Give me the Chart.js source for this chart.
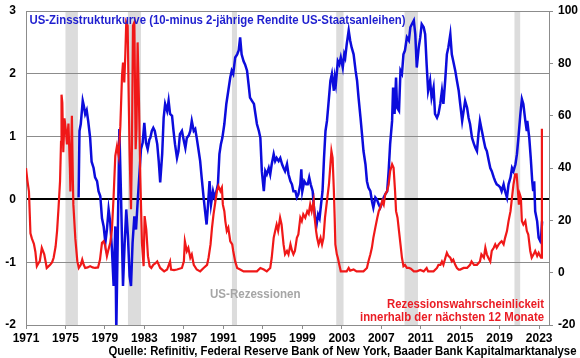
<!DOCTYPE html>
<html><head><meta charset="utf-8">
<script src="https://cdn.jsdelivr.net/npm/chart.js@4.4.1/dist/chart.umd.min.js"></script>
<style>html,body{margin:0;padding:0;background:#fff;overflow:hidden}#wrap{width:580px;height:358px}</style>
</head><body><div id="wrap"><canvas id="c" width="580" height="358"></canvas></div>
<script>
// ---- data ----
const spreadYears = [1976.33,1976.42,1976.55,1976.75,1976.85,1977.0,1977.15,1977.3,1977.5,1977.65,1977.85,1978.0,1978.2,1978.35,1978.53,1978.7,1978.87,1979.04,1979.2,1979.37,1979.54,1979.71,1979.88,1980.05,1980.15,1980.29,1980.46,1980.63,1980.83,1981.0,1981.16,1981.33,1981.5,1981.64,1981.8,1981.98,1982.15,1982.31,1982.48,1982.65,1982.82,1982.99,1983.16,1983.33,1983.5,1983.6,1983.75,1983.9,1984.05,1984.3,1984.45,1984.6,1984.8,1984.95,1985.1,1985.3,1985.45,1985.6,1985.8,1985.95,1986.1,1986.3,1986.45,1986.6,1986.8,1987.0,1987.15,1987.3,1987.5,1987.65,1987.8,1988.0,1988.15,1988.3,1988.5,1988.65,1988.8,1989.0,1989.15,1989.3,1989.45,1989.6,1989.75,1989.95,1990.1,1990.3,1990.45,1990.6,1990.75,1990.9,1991.1,1991.3,1991.5,1991.7,1991.85,1992.0,1992.2,1992.4,1992.55,1992.7,1992.85,1993.05,1993.2,1993.4,1993.55,1993.7,1993.9,1994.1,1994.25,1994.4,1994.6,1994.75,1994.9,1995.1,1995.25,1995.4,1995.6,1995.75,1995.9,1996.1,1996.25,1996.4,1996.6,1996.77,1996.95,1997.1,1997.25,1997.45,1997.6,1997.8,1997.95,1998.1,1998.3,1998.45,1998.6,1998.8,1998.9,1999.0,1999.2,1999.4,1999.55,1999.7,1999.85,2000.05,2000.15,2000.3,2000.45,2000.6,2000.75,2000.9,2001.05,2001.2,2001.35,2001.5,2001.65,2001.85,2002.0,2002.2,2002.3,2002.4,2002.6,2002.75,2002.9,2003.1,2003.25,2003.35,2003.5,2003.7,2003.85,2004.0,2004.2,2004.4,2004.55,2004.7,2004.9,2005.05,2005.2,2005.4,2005.55,2005.7,2005.9,2006.06,2006.2,2006.4,2006.55,2006.75,2006.9,2007.1,2007.25,2007.4,2007.6,2007.75,2007.9,2008.1,2008.2,2008.25,2008.35,2008.5,2008.6,2008.8,2008.95,2009.1,2009.25,2009.4,2009.6,2009.8,2009.95,2010.1,2010.3,2010.45,2010.6,2010.8,2010.95,2011.1,2011.3,2011.45,2011.6,2011.75,2011.95,2012.1,2012.3,2012.45,2012.65,2012.8,2012.98,2013.15,2013.3,2013.5,2013.65,2013.8,2014.0,2014.15,2014.3,2014.5,2014.67,2014.85,2015.0,2015.2,2015.35,2015.5,2015.7,2015.85,2016.0,2016.2,2016.4,2016.55,2016.7,2016.85,2017.0,2017.2,2017.4,2017.55,2017.7,2017.9,2018.05,2018.2,2018.4,2018.55,2018.7,2018.9,2019.06,2019.2,2019.4,2019.55,2019.74,2019.9,2020.1,2020.25,2020.4,2020.6,2020.75,2020.9,2021.1,2021.25,2021.4,2021.6,2021.75,2021.8,2022.0,2022.15,2022.3,2022.4,2022.5,2022.6,2022.8,2022.95,2023.1,2023.2,2023.3];
const spreadValues = [0.03,1.09,1.2,1.57,1.5,1.36,1.42,1.25,0.98,0.6,0.5,0.35,0.29,0.13,0.05,-0.3,-0.43,-0.69,-0.48,-0.16,-0.37,-0.8,-1.38,-0.43,-2.1,-0.69,1.12,0.05,-1.38,-0.69,-0.16,-0.59,-1.22,-1.38,-0.69,-0.27,-0.48,-0.05,0.37,0.8,0.9,1.22,0.9,0.8,0.95,0.98,1.09,1.14,1.09,0.88,0.61,0.27,0.72,1.3,1.52,1.41,1.57,1.36,1.33,1.09,0.88,0.66,0.77,1.04,1.09,0.93,0.82,0.98,1.02,1.09,1.25,1.09,1.12,0.98,0.77,0.61,0.35,0.03,-0.19,-0.4,-0.08,0.29,-0.08,0.13,0.03,0.13,0.24,0.72,0.88,0.98,1.2,1.52,1.73,1.94,2.05,2.0,2.26,2.31,2.37,2.58,2.31,2.2,2.15,2.05,1.84,1.62,1.57,1.52,1.36,1.2,1.09,0.98,0.45,0.13,0.45,0.4,0.5,0.4,0.56,0.72,0.61,0.66,0.61,0.66,0.56,0.5,0.45,0.56,0.4,0.29,0.24,0.13,0.13,0.03,0.08,0.24,0.48,0.13,0.29,0.24,0.24,0.35,0.24,0.13,-0.08,-0.29,-0.4,-0.24,-0.3,-0.08,0.13,0.66,1.09,1.25,1.52,1.89,2.0,1.73,1.94,1.84,2.2,2.15,2.26,2.1,2.31,2.26,2.47,2.69,2.53,2.42,2.31,2.05,1.89,1.62,1.3,1.04,0.77,0.56,0.29,0.19,0.13,-0.03,-0.13,0.03,0.0,-0.08,-0.13,-0.05,0.03,0.08,0.13,0.45,0.88,1.25,1.78,1.52,1.36,1.94,1.46,1.41,2.05,2.0,2.31,2.37,2.58,2.53,2.74,2.79,2.85,2.63,2.1,2.42,2.58,2.79,2.74,2.63,2.15,1.73,1.89,1.62,1.78,1.36,1.3,1.36,1.52,1.73,1.52,1.94,2.31,2.42,2.63,2.31,2.2,2.05,1.89,1.73,1.52,1.25,1.41,1.57,1.46,1.3,1.2,0.98,0.88,0.82,0.77,1.04,1.25,1.09,0.93,0.82,0.77,0.61,0.5,0.45,0.35,0.29,0.24,0.22,0.19,0.13,0.24,0.13,0.03,0.24,0.35,0.5,0.45,0.56,0.72,0.98,1.36,1.6,1.52,1.25,1.09,1.25,0.98,0.66,0.29,0.13,0.29,-0.19,-0.35,-0.61,-0.66,-0.6,-0.35];

const probYears = [1971.0,1971.15,1971.3,1971.45,1971.6,1971.8,1971.95,1972.1,1972.25,1972.4,1972.6,1972.75,1972.85,1973.0,1973.1,1973.3,1973.45,1973.65,1973.8,1974.0,1974.15,1974.3,1974.45,1974.55,1974.6,1974.68,1974.78,1974.9,1975.05,1975.15,1975.3,1975.45,1975.5,1975.65,1975.75,1975.8,1976.0,1976.2,1976.35,1976.55,1976.7,1976.85,1977.0,1977.25,1977.5,1977.75,1978.0,1978.3,1978.5,1978.7,1978.87,1979.04,1979.2,1979.37,1979.54,1979.71,1979.88,1980.05,1980.22,1980.39,1980.56,1980.73,1980.83,1980.96,1981.06,1981.16,1981.3,1981.4,1981.5,1981.64,1981.74,1981.84,1981.98,1982.11,1982.2,1982.31,1982.45,1982.58,1982.75,1982.92,1983.02,1983.19,1983.36,1983.53,1983.7,1983.9,1984.1,1984.3,1984.6,1985.0,1985.3,1985.6,1985.7,1986.0,1986.3,1986.8,1987.0,1987.1,1987.3,1987.45,1987.65,1987.8,1988.0,1988.3,1988.65,1989.0,1989.35,1989.5,1989.7,1989.85,1990.0,1990.2,1990.35,1990.5,1990.7,1990.85,1990.95,1991.1,1991.2,1991.35,1991.5,1991.7,1991.9,1992.0,1992.2,1992.4,1992.7,1993.05,1993.7,1994.4,1994.75,1995.1,1995.4,1995.75,1995.9,1996.1,1996.25,1996.4,1996.55,1996.75,1996.9,1997.1,1997.25,1997.45,1997.6,1997.8,1997.95,1998.1,1998.25,1998.45,1998.6,1998.8,1998.95,1999.1,1999.3,1999.5,1999.65,1999.8,1999.95,2000.15,2000.25,2000.4,2000.5,2000.65,2000.85,2001.0,2001.15,2001.3,2001.5,2001.7,2001.85,2001.95,2002.07,2002.2,2002.28,2002.35,2002.5,2002.6,2002.75,2002.9,2003.2,2003.5,2003.7,2003.85,2004.2,2004.5,2004.9,2005.2,2005.55,2005.7,2005.9,2006.05,2006.2,2006.4,2006.6,2006.75,2006.9,2007.1,2007.25,2007.4,2007.6,2007.75,2007.9,2008.1,2008.25,2008.4,2008.5,2008.65,2008.8,2008.95,2009.1,2009.25,2009.4,2009.6,2009.8,2010.0,2010.3,2010.6,2010.95,2011.3,2011.6,2011.75,2012.3,2012.65,2012.8,2013.0,2013.15,2013.3,2013.5,2013.65,2013.8,2014.0,2014.15,2014.3,2014.5,2014.67,2014.85,2015.0,2015.35,2015.7,2016.0,2016.15,2016.4,2016.7,2017.0,2017.15,2017.4,2017.55,2017.7,2017.85,2018.05,2018.2,2018.4,2018.55,2018.7,2018.9,2019.06,2019.2,2019.4,2019.55,2019.74,2019.9,2020.1,2020.25,2020.4,2020.57,2020.72,2020.85,2020.95,2021.05,2021.15,2021.25,2021.4,2021.6,2021.75,2021.9,2022.1,2022.25,2022.44,2022.6,2022.8,2022.95,2023.1,2023.2,2023.28];
const probValues = [40,35,31,15,13,11,8,2.5,3.5,4.4,9.5,8,7,4,1.8,2.5,3,4,5.7,10,16,25,35,50,68,65,46,59,54,49,57,40,31,60,35,26,13,4.4,1.8,3,5,3,1.8,2,2.5,2,1.8,2,5,11.4,12,10.1,6.3,9,11.4,16.5,29.3,44.6,48.4,44.6,56,75.2,80.3,72.7,83,95.7,94.4,68.8,45.9,24.2,49.7,94.4,95.7,47.2,55,88,65,37,11.4,2.5,21.6,16.5,6.3,2.5,1.8,3,3.5,4.3,1.8,0.5,1.2,4.3,1.2,1,1.2,1.8,4.3,12,8.2,9.5,5.7,7,3,1.2,0.5,1.8,3,5.7,10.8,17.2,22.2,27.4,31.2,33.1,31.2,32.5,26,23.5,19.7,15.9,17.2,12,10.8,8.3,4.3,1.8,1.2,0.5,0.5,0.5,1.8,1.2,0.5,1.8,5.7,13.3,15.9,18.4,16,21,18.4,10.8,7,8.3,7,10.8,8.5,7,8.3,13.3,14.6,21,19.7,22.3,21,23.5,22.5,26,23.5,27.4,21,15.9,13.3,10.8,13.3,10.8,13.3,21,27.4,33.7,41.4,46.5,43.9,31.2,21,10.8,7,5.7,3,0.5,0.5,0.5,1.8,0.8,1.2,0.5,0.5,0.5,1.8,4.3,7,9.5,13.3,17.2,21,23.5,24.8,27.4,26,29.9,31.2,33.7,38.8,41.4,40.1,31.2,23.5,21,15.9,10.8,5.7,2.5,3,1.8,1.8,1.5,0.5,0.5,1,0.5,1.8,0.5,0.5,1.8,3,3,4.3,3,5.7,7.6,6.4,5.7,4.3,5,3,1.8,1.2,1.2,1.8,1.8,3,4.3,3,3,4.3,7,5.7,9.5,7,5.7,4.3,8.3,9.5,10.8,9.5,10.8,11.5,12,10.8,13.3,15.9,19.7,23.5,28.7,33.7,37.6,37.6,31.2,26,29.9,28.7,19.7,18.4,19.7,16,14.6,8.3,5.7,7,8.3,6.4,7.6,6.4,5.7,55];

const recessionStart = [1975.0, 1981.33, 1991.87, 2002.44, 2009.36, 2020.5];
const recessionEnd   = [1976.26, 1982.65, 1992.38, 2003.18, 2010.72, 2021.08];

const xTickYears = [1971,1975,1979,1983,1987,1991,1995,1999,2003,2007,2011,2015,2019,2023];
const leftTicks  = [-2,-1,0,1,2,3];
const rightTicks = [-20,0,20,40,60,80,100];

// ---- styling ----
const GRID = '#8c8c8c';
const FONT = "'Liberation Sans Narrow','Arial Narrow','Liberation Sans',Arial,sans-serif";
const tickFont = {family: FONT, size: 12, weight: 'bold'};

function fitText(ctx, text, x, y, w, align, color) {
  ctx.save();
  ctx.font = "bold 12px 'Liberation Sans', Arial, sans-serif";
  const m = ctx.measureText(text).width;
  ctx.translate(x, y);
  ctx.scale(w / m, 1);
  ctx.textAlign = align;
  ctx.textBaseline = 'alphabetic';
  ctx.fillStyle = color;
  ctx.fillText(text, 0, 0);
  ctx.restore();
}

const decor = {
  id: 'decor',
  beforeDraw(chart) {
    const {ctx, chartArea: a, scales: {x}} = chart;
    ctx.save();
    ctx.fillStyle = '#fff';
    ctx.fillRect(0, 0, chart.width, chart.height);
    ctx.fillStyle = '#dcdcdc';
    for (let i = 0; i < recessionStart.length; i++) {
      const x0 = x.getPixelForValue(recessionStart[i]);
      const x1 = x.getPixelForValue(recessionEnd[i]);
      ctx.fillRect(x0, a.top, x1 - x0, a.bottom - a.top);
    }
    ctx.restore();
  },
  afterDraw(chart) {
    const ctx = chart.ctx;
    fitText(ctx, 'US-Zinsstrukturkurve (10-minus 2-jährige Rendite US-Staatsanleihen)', 29.5, 23.5, 376, 'left', '#1f1fcf');
    fitText(ctx, 'US-Rezessionen', 210, 298, 90.5, 'left', '#a6a6a6');
    fitText(ctx, 'Rezessionswahrscheinlickeit', 544, 308, 157, 'right', '#ea1c24');
    fitText(ctx, 'innerhalb der nächsten 12 Monate', 544, 321, 184, 'right', '#ea1c24');
    fitText(ctx, 'Quelle: Refinitiv, Federal Reserve Bank of New York, Baader Bank Kapitalmarktanalyse', 108.5, 354.5, 468, 'left', '#000');
  }
};

const vFit = w => s => { s.width = w; s.paddingTop = 0; s.paddingBottom = 0; };

new Chart(document.getElementById('c'), {
  type: 'line',
  data: {
    datasets: [
      {
        label: 'Rezessionswahrscheinlichkeit',
        data: probYears.map((v, i) => ({x: v, y: probValues[i]})),
        yAxisID: 'yR', borderColor: '#f01818', borderWidth: 2.2,
        pointRadius: 0, tension: 0, order: 0
      },
      {
        label: 'US-Zinsstrukturkurve',
        data: spreadYears.map((v, i) => ({x: v, y: spreadValues[i]})),
        yAxisID: 'yL', borderColor: '#0c0cdc', borderWidth: 2.5,
        pointRadius: 0, tension: 0, order: 1
      }
    ]
  },
  options: {
    responsive: false, animation: false, devicePixelRatio: 1,
    layout: {padding: {top: 11, left: 0, right: 0, bottom: 0}},
    plugins: {legend: {display: false}, tooltip: {enabled: false}},
    scales: {
      x: {
        type: 'linear', min: 1971, max: 2024,
        afterBuildTicks: s => { s.ticks = xTickYears.map(v => ({value: v})); },
        afterFit: s => { s.height = 33; s.paddingLeft = 0; s.paddingRight = 0; },
        ticks: {callback: v => String(v), color: '#000', font: tickFont, padding: 2, maxRotation: 0, autoSkip: false},
        grid: {drawOnChartArea: false, drawTicks: true, tickLength: 4, color: GRID},
        border: {color: GRID, width: 1}
      },
      yL: {
        position: 'left', min: -2, max: 3,
        afterBuildTicks: s => { s.ticks = leftTicks.map(v => ({value: v})); },
        afterFit: vFit(26),
        ticks: {color: '#000', font: tickFont, padding: 10},
        grid: {drawTicks: false, color: c => c.tick && c.tick.value === 0 ? '#000' : GRID,
               lineWidth: c => c.tick && c.tick.value === 0 ? 2 : 1},
        border: {color: GRID, width: 1}
      },
      yR: {
        position: 'right', min: -20, max: 100,
        afterBuildTicks: s => { s.ticks = rightTicks.map(v => ({value: v})); },
        afterFit: vFit(31),
        ticks: {color: '#000', font: tickFont, padding: 5},
        grid: {drawOnChartArea: false, drawTicks: true, tickLength: 4, color: GRID},
        border: {color: GRID, width: 1}
      }
    }
  },
  plugins: [decor]
});
</script>
</body></html>
